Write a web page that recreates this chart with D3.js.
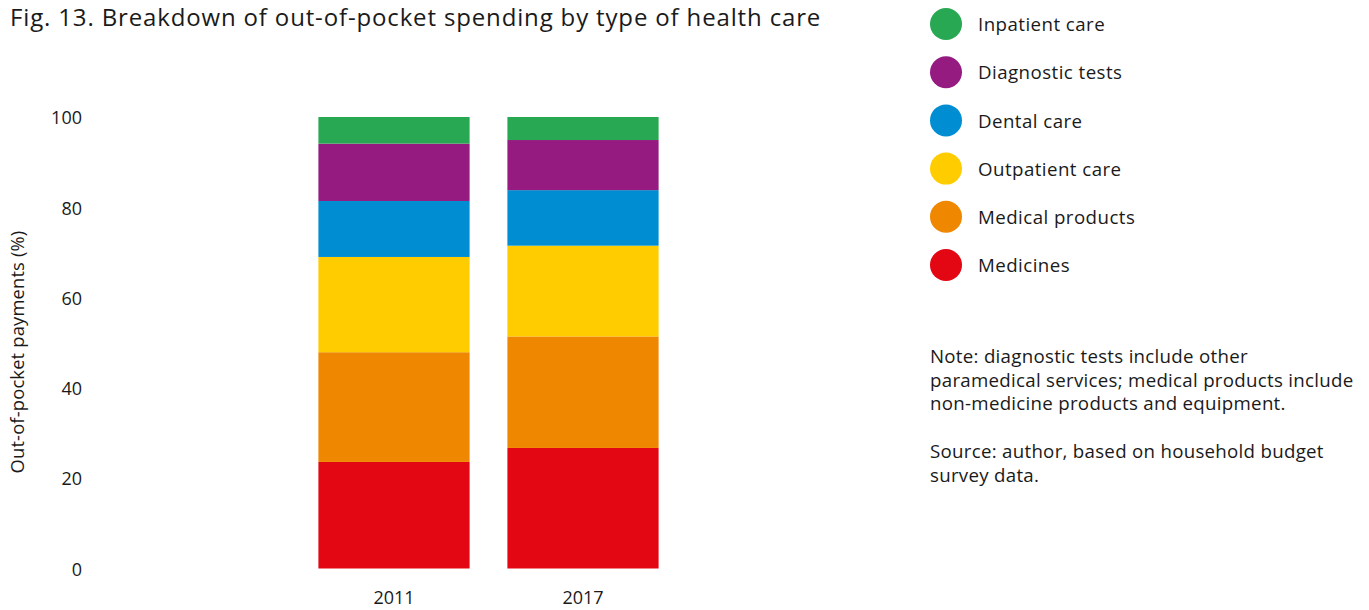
<!DOCTYPE html>
<html>
<head>
<meta charset="utf-8">
<script src="https://cdn.jsdelivr.net/npm/d3@7"></script>
<style>
	body { margin: 0; background: #fff; }
	svg { font-family: "Open Sans", "Noto Sans", sans-serif; }
</style>
</head>
<body>
<div id="chart"></div>
<script>
// data (percent of out-of-pocket payments)
var years      = ['2011', '2017'];
var categories = ['Medicines', 'Medical products', 'Outpatient care', 'Dental care', 'Diagnostic tests', 'Inpatient care'];
var colors     = ['#e30613', '#f08700', '#ffcc00', '#008dd2', '#951b80', '#29a853'];
var values2011 = [23.6, 24.3, 21.1, 12.4, 12.7, 5.9];
var values2017 = [26.7, 24.7, 20.1, 12.3, 11.1, 5.1];
var yTicks     = [0, 20, 40, 60, 80, 100];
var noteLines  = ['Note: diagnostic tests include other',
                  'paramedical services; medical products include',
                  'non-medicine products and equipment.'];
var sourceLines = ['Source: author, based on household budget',
                   'survey data.'];

var width = 1369, height = 610;
var ink = '#1a1a1a';

var svg = d3.select('#chart').append('svg')
	.attr('width', width)
	.attr('height', height);

svg.append('text')
	.attr('x', 10)
	.attr('y', 26)
	.attr('font-size', 24)
	.attr('letter-spacing', 0.85)
	.attr('fill', ink)
	.text('Fig. 13. Breakdown of out-of-pocket spending by type of health care');

// build rows for the stack
var rows = years.map(function(y, i) {
	var src = i === 0 ? values2011 : values2017;
	var row = { year: y };
	categories.forEach(function(c, j) { row[c] = src[j]; });
	return row;
});
var series = d3.stack().keys(categories)(rows);

var x = d3.scaleBand()
	.domain(years)
	.range([299.5, 677.5])
	.paddingInner(0.2)
	.paddingOuter(0.1);

var y = d3.scaleLinear()
	.domain([0, 100])
	.range([568.5, 117]);

var color = d3.scaleOrdinal().domain(categories).range(colors);

svg.append('g')
	.selectAll('g')
	.data(series)
	.enter().append('g')
		.attr('fill', function(d) { return color(d.key); })
	.selectAll('rect')
	.data(function(d) { return d; })
	.enter().append('rect')
		.attr('x', function(d) { return x(d.data.year); })
		.attr('y', function(d) { return y(d[1]); })
		.attr('height', function(d) { return y(d[0]) - y(d[1]); })
		.attr('width', x.bandwidth());

// y axis: labels only
var yAxis = svg.append('g')
	.attr('transform', 'translate(82,1)')
	.call(d3.axisLeft(y).tickValues(yTicks).tickSize(0).tickPadding(0));
yAxis.select('.domain').remove();
yAxis.selectAll('text')
	.attr('font-family', '"Open Sans", sans-serif')
	.attr('font-size', 18)
	.attr('fill', ink);

svg.append('text')
	.attr('transform', 'translate(24,352) rotate(-90)')
	.attr('text-anchor', 'middle')
	.attr('font-size', 18.3)
	.attr('letter-spacing', 0.2)
	.attr('fill', ink)
	.text('Out-of-pocket payments (%)');

// x axis
var xAxis = svg.append('g')
	.attr('transform', 'translate(0,' + 591 + ')')
	.call(d3.axisBottom(x).tickSize(0).tickPadding(0));
xAxis.select('.domain').remove();
xAxis.selectAll('text')
	.attr('font-family', '"Open Sans", sans-serif')
	.attr('font-size', 18)
	.attr('fill', ink);

// legend, top to bottom reversed order of stack
var legend = svg.append('g')
	.selectAll('g')
	.data(categories.slice().reverse())
	.enter().append('g')
		.attr('transform', function(d, i) { return 'translate(946,' + (24 + i * 48.2) + ')'; });
legend.append('circle')
	.attr('r', 16)
	.attr('fill', function(d) { return color(d); });
legend.append('text')
	.attr('x', 32)
	.attr('dy', '0.38em')
	.attr('font-size', 18.7)
	.attr('letter-spacing', 0.45)
	.attr('fill', ink)
	.text(function(d) { return d; });

svg.append('g')
	.selectAll('text')
	.data(noteLines)
	.enter().append('text')
		.attr('x', 930)
		.attr('y', function(d, i) { return 363 + i * 23.5; })
		.attr('font-size', 18.7)
		.attr('letter-spacing', 0.28)
		.attr('fill', ink)
		.text(function(d) { return d; });

svg.append('g')
	.selectAll('text')
	.data(sourceLines)
	.enter().append('text')
		.attr('x', 930)
		.attr('y', function(d, i) { return 458 + i * 23.5; })
		.attr('font-size', 18.7)
		.attr('letter-spacing', 0.28)
		.attr('fill', ink)
		.text(function(d) { return d; });
</script>
</body>
</html>
